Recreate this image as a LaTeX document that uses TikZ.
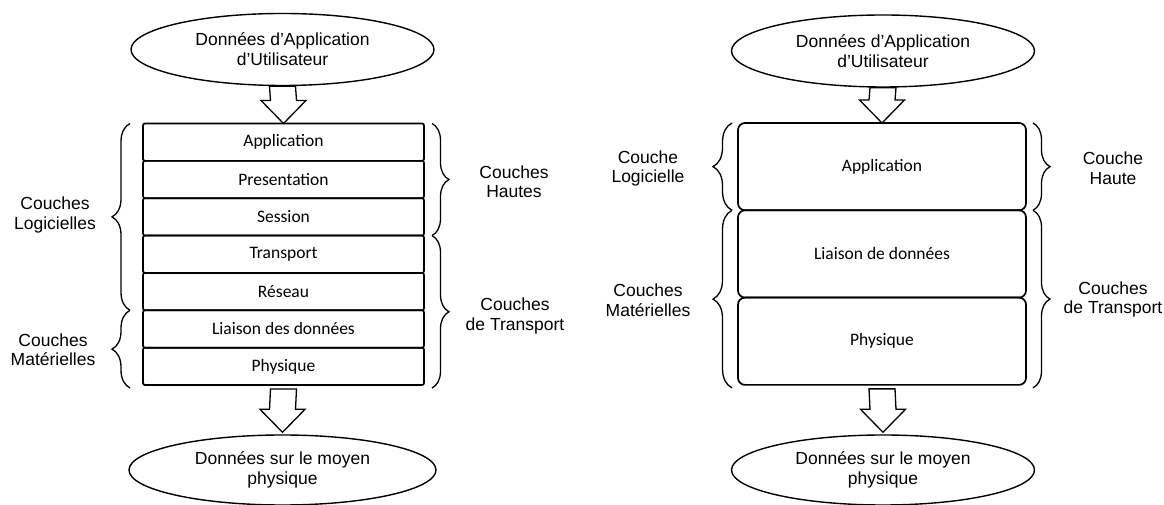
\documentclass[tikz,border=0pt]{standalone}
\usepackage{fontspec}
\setmainfont{Liberation Sans}
\newfontfamily\layerfont{Carlito}
\usetikzlibrary{shapes.geometric,decorations.pathreplacing,calc,positioning}

% hollow block arrow from a shaft-top coordinate to a tip coordinate
\newcommand\layerarrow[2]{%
  \draw[fat] ($(#1)+(-13,0)$) -- ($(#2)+(-13,23)$) -- ($(#2)+(-22.5,23)$) --
    (#2) -- ($(#2)+(22.5,23)$) -- ($(#2)+(13,23)$) -- ($(#1)+(13,0)$) -- cycle;}

\begin{document}
\begin{tikzpicture}[x=1pt,y=1pt,
  blob/.style={ellipse, draw, line width=1.4pt, fill=white, inner sep=0pt,
    minimum width=303pt, minimum height=72pt, align=center,
    font=\fontsize{17.5}{20}\selectfont},
  layer/.style={draw, line width=1.7pt, rounded corners=2pt, outer sep=0pt,
    minimum width=281pt, minimum height=37.36pt, inner sep=0pt,
    font=\layerfont\fontsize{17.5}{19}\selectfont},
  biglayer/.style={layer, rounded corners=7pt, minimum width=288pt,
    minimum height=87.3pt},
  tag/.style={align=center, inner sep=0pt,
    font=\fontsize{17.5}{19.5}\selectfont},
  grp/.style={decorate, decoration={brace, amplitude=#1}, line width=1.3pt},
  grp/.default=18pt,
  fat/.style={draw, line width=1.3pt, fill=white, line join=miter}]
\useasboundingbox (0,0) rectangle (1164,505);

% ---------- seven-layer stack ----------
\node[blob] (srcL) at (282.5,455.5) {Données d'Application\\d'Utilisateur};
\node[layer] (L1) at (283.5,362.82) {Application};
\node[layer, below=0pt of L1] (L2) {Presentation};
\node[layer, below=0pt of L2] (L3) {Session};
\node[layer, below=0pt of L3] (L4) {Transport};
\node[layer, below=0pt of L4] (L5) {Réseau};
\node[layer, below=0pt of L5] (L6) {Liaison des données};
\node[layer, below=0pt of L6] (L7) {Physique};
\node[blob, minimum width=307pt, minimum height=70pt] (dstL) at (282.5,35)
  {Données sur le moyen\\physique};

\layerarrow{srcL.south}{L1.north}
\coordinate (bLs) at ($(L7.south)+(0,-4)$);
\coordinate (bLt) at ($(dstL.north)+(0,2)$);
\layerarrow{bLs}{bLt}

% braces on the left
\draw[grp] ($(L6.north west)+(-13,0)$) -- ($(L1.north west)+(-13,0)$);
\draw[grp] ($(L7.south west)+(-13,-3)$) -- ($(L6.north west)+(-13,0)$);
\node[tag] (swL) at (55,290) {Couches\\Logicielles};
\node[tag] (hwL) at (53,155) {Couches\\Matérielles};

% braces on the right
\draw[grp=17pt] ($(L1.north east)+(8,0)$) -- ($(L4.north east)+(8,0)$);
\draw[grp=17pt] ($(L4.north east)+(8,0)$) -- ($(L7.south east)+(8,-3)$);
\node[tag] (upL) at (514,323) {Couches\\Hautes};
\node[tag] (trL) at (515,189) {Couches\\de Transport};

% ---------- three-layer stack ----------
\node[blob] (srcR) at (883,454) {Données d'Application\\d'Utilisateur};
\node[biglayer] (R1) at (882,338.35) {Application};
\node[biglayer, below=0pt of R1] (R2) {Liaison de données};
\node[biglayer, below=0pt of R2] (R3) {Physique};
\node[blob, minimum height=70pt] (dstR) at (883,35)
  {Données sur le moyen\\physique};

\layerarrow{srcR.south}{R1.north}
\coordinate (bRs) at ($(R3.south)+(0,-4)$);
\coordinate (bRt) at ($(dstR.north)+(0,2)$);
\layerarrow{bRs}{bRt}

\draw[grp=19pt] ($(R2.north west)+(-6,0)$) -- ($(R1.north west)+(-6,0)$);
\draw[grp=19pt] ($(R3.south west)+(-6,-3)$) -- ($(R2.north west)+(-6,0)$);
\node[tag] (swR) at (648,336.5) {Couche\\Logicielle};
\node[tag] (hwR) at (648,204.5) {Couches\\Matérielles};

\draw[grp=17pt] ($(R1.north east)+(7,0)$) -- ($(R2.north east)+(7,0)$);
\draw[grp=17pt] ($(R2.north east)+(7,0)$) -- ($(R3.south east)+(7,-3)$);
\node[tag] (upR) at (1113,336.5) {Couche\\Haute};
\node[tag] (trR) at (1113,205.5) {Couches\\de Transport};
\end{tikzpicture}
\end{document}
